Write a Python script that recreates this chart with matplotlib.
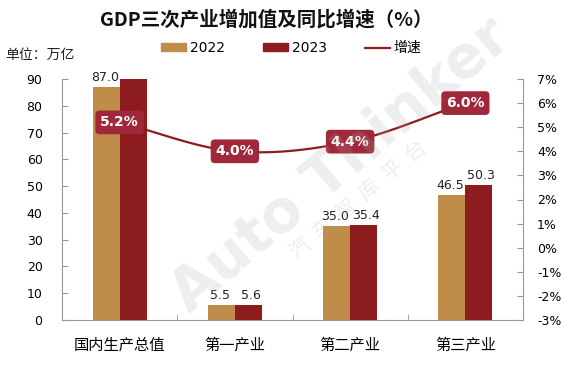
import numpy as np
import matplotlib
matplotlib.use("Agg")
import matplotlib.pyplot as plt
from matplotlib.patches import Patch
from matplotlib.lines import Line2D
from matplotlib.ticker import FuncFormatter

categories = ["国内生产总值", "第一产业", "第二产业", "第三产业"]
v2022 = [87.0, 5.5, 35.0, 46.5]
v2023 = [91.5, 5.6, 35.4, 50.3]
labels2023 = [None, "5.6", "35.4", "50.3"]
growth = [5.2, 4.0, 4.4, 6.0]

C22 = "#BF8C4A"
C23 = "#8C1C1E"
CLINE = "#8C1C1E"
CBOX = "#A0283A"

plt.rcParams['font.family'] = ['DejaVu Sans', 'Noto Sans CJK SC']
CJK = ['Noto Sans CJK SC', 'DejaVu Sans']
LAT = ['DejaVu Sans', 'Noto Sans CJK SC']

fig = plt.figure(figsize=(5.69, 3.76), dpi=100)
ax = fig.add_axes([62/569, 1-320/376, (523-62)/569, (320-79)/376])
ax2 = ax.twinx()

x = np.arange(len(categories))
w = 0.235
ax.bar(x - w/2, v2022, w, color=C22, zorder=2)
ax.bar(x + w/2, v2023, w, color=C23, zorder=2)
for i in range(len(x)):
    ax.text(x[i] - w/2 - 0.01, v2022[i] + 1.2, f"{v2022[i]:.1f}", ha='center', va='bottom',
            fontsize=9, color='#222222')
    if labels2023[i]:
        ax.text(x[i] + w/2 + 0.02, v2023[i] + 1.2, labels2023[i], ha='center', va='bottom',
                fontsize=9, color='#222222')

ax.set_ylim(0, 90)
ax.set_yticks(np.arange(0, 91, 10))
ax.set_xlim(-0.5, 3.5)
ax.set_xticks(x)
ax.set_xticklabels(categories, fontfamily=CJK, fontsize=11)
ax.set_xticks(np.arange(0.5, 3.0, 1.0), minor=True)
ax.tick_params(axis='x', which='major', length=0, pad=12)
ax.tick_params(axis='x', which='minor', length=4, direction='in', color='#999999')
ax.tick_params(axis='y', direction='in', length=4, color='#999999', labelsize=9, pad=14)
for s in ['left', 'bottom']:
    ax.spines[s].set_color('#999999')
ax.spines['top'].set_visible(False)
ax.spines['right'].set_visible(False)

# smoothed growth line (Catmull-Rom through the data points)
px = np.array(x, dtype=float)
py = np.array(growth, dtype=float)
P = np.column_stack([px, py])
Pext = np.vstack([P[0] - (P[1] - P[0]), P, P[-1] + (P[-1] - P[-2])])
pts = []
for i in range(1, len(Pext) - 2):
    p0, p1, p2, p3 = Pext[i-1], Pext[i], Pext[i+1], Pext[i+2]
    for t in np.linspace(0, 1, 40):
        t2, t3 = t*t, t*t*t
        pts.append(0.5*((2*p1) + (-p0 + p2)*t + (2*p0 - 5*p1 + 4*p2 - p3)*t2 + (-p0 + 3*p1 - 3*p2 + p3)*t3))
pts = np.array(pts)
ax2.plot(pts[:, 0], pts[:, 1], color=CLINE, lw=1.6, zorder=3)
for i in range(len(x)):
    ax2.text(px[i], py[i], f"{growth[i]:.1f}%", ha='center', va='center', fontsize=10,
             fontweight='bold', color='white', zorder=5,
             bbox=dict(boxstyle='round,pad=0.35,rounding_size=0.3', fc=CBOX, ec='none'))
ax2.set_ylim(-3, 7)
ax2.set_yticks(np.arange(-3, 8, 1))
ax2.yaxis.set_major_formatter(FuncFormatter(lambda v, p: f"{int(round(v))}%"))
ax2.tick_params(axis='y', direction='in', length=4, color='#999999', labelsize=9, pad=10)
for s in ['left', 'top', 'bottom']:
    ax2.spines[s].set_visible(False)
ax2.spines['right'].set_color('#999999')

# titles
fig.text(0.468, 1-20/376, "GDP三次产业增加值及同比增速（%）", ha='center', va='center',
         fontsize=14, fontweight='bold', fontfamily=CJK, color='#111111')
fig.text(5/569, 1-55/376, "单位：万亿", ha='left', va='center', fontsize=10,
         fontfamily=CJK, color='#222222')

handles = [Patch(color=C22, label='2022'), Patch(color=C23, label='2023'),
           Line2D([0], [0], color=CLINE, lw=1.6, label='增速')]
leg = fig.legend(handles=handles, loc='center', bbox_to_anchor=(0.512, 1-48/376), ncol=3,
                 frameon=False, handlelength=1.8, handleheight=0.45, columnspacing=2.7,
                 handletextpad=0.3, prop={'family': LAT, 'size': 10})

# watermark
fig.text(0.60, 0.56, "Auto Thinker", ha='center', va='center', rotation=40,
         fontsize=42, fontweight='bold', color='#aaaaaa', alpha=0.2, zorder=10)
fig.text(0.63, 0.47, "汽  车  智  库  平  台", ha='center', va='center', rotation=40,
         fontsize=15, fontfamily=CJK, color='#aaaaaa', alpha=0.2, zorder=10)

fig.savefig("out.png", dpi=100)
